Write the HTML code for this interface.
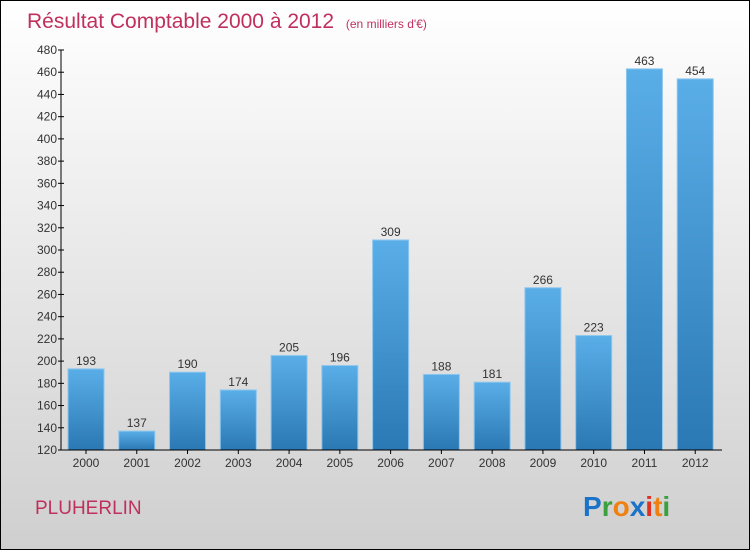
<!DOCTYPE html>
<html><head><meta charset="utf-8"><style>
body{margin:0}
#wrap{position:relative;width:748px;height:548px;border:1px solid #000;background:linear-gradient(#ffffff,#cfcfcf);overflow:hidden;font-family:"Liberation Sans",sans-serif}
</style></head><body>
<div id="wrap">
<svg width="748" height="548" id="svg">
<text x="26" y="27" font-size="21" fill="#c0305e">Résultat Comptable 2000 à 2012 <tspan font-size="12" dx="6">(en milliers d'€)</tspan></text>
<text x="34" y="513" font-size="19" fill="#c0305e">PLUHERLIN</text>
<text x="582" y="515" font-size="28" font-weight="bold"><tspan fill="#1a73c8">P</tspan><tspan fill="#3aa040">r</tspan><tspan fill="#f08010">o</tspan><tspan fill="#1a73c8">x</tspan><tspan fill="#e03020">i</tspan><tspan fill="#f08010">t</tspan><tspan fill="#3aa040">i</tspan></text>
<defs><linearGradient id="bg" x1="0" y1="0" x2="0" y2="1"><stop offset="0" stop-color="#5aaee8"/><stop offset="1" stop-color="#2a78b4"/></linearGradient></defs>
<g id="bars"></g><g id="axes"></g>
</svg></div>
<script>
const years=["2000","2001","2002","2003","2004","2005","2006","2007","2008","2009","2010","2011","2012"];
const values=[193,137,190,174,205,196,309,188,181,266,223,463,454];
const yTicks=[120,140,160,180,200,220,240,260,280,300,320,340,360,380,400,420,440,460,480];
const NS="http://www.w3.org/2000/svg";
const x0=60,x1=720,yMin=120,yMax=480,py0=449,py1=49;
const step=(x1-x0)/years.length;
function y(v){return py0-(v-yMin)/(yMax-yMin)*(py0-py1);}
function xb(i){return x0+i*step+7;}
const bars=document.getElementById('bars'),axes=document.getElementById('axes');
function mk(t,a,p){const e=document.createElementNS(NS,t);for(const k in a)e.setAttribute(k,a[k]);p.appendChild(e);return e;}
values.forEach((v,i)=>{
 const r=mk('rect',{x:xb(i),y:y(v),width:36,height:py0-y(v),fill:'url(#bg)',stroke:'#8cc6ee','stroke-width':1},bars);
 
 
 const t=mk('text',{x:xb(i)+18,y:y(v)-4,'font-size':12,'text-anchor':'middle',fill:'#333'},bars);
 t.textContent=v;
 
 
 const xl=mk('text',{x:xb(i)+18,y:466,'font-size':12,'text-anchor':'middle',fill:'#333'},axes);
 xl.textContent=years[i];
 
 
 mk('line',{x1:xb(i)+18,x2:xb(i)+18,y1:py0,y2:py0+4,stroke:'#000'},axes);
});
const ya=mk('line',{x1:x0,x2:x0,y1:py1,y2:py0,stroke:'#000'},axes);


const xa=mk('line',{x1:x0,x2:x1+1,y1:py0,y2:py0,stroke:'#000'},axes);


yTicks.forEach(v=>{
 mk('line',{x1:x0-3,x2:x0+3,y1:y(v),y2:y(v),stroke:'#000'},axes);
 const t=mk('text',{x:x0-4,y:y(v)+4,'font-size':12,'text-anchor':'end',fill:'#333'},axes);
 t.textContent=v;
 
 
});
</script>
</body></html>
